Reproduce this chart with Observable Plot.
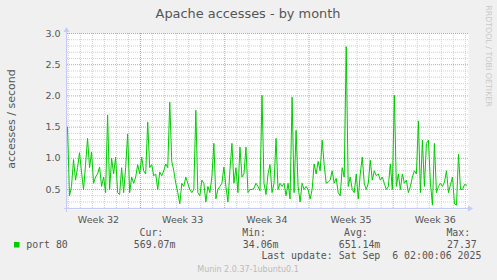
<!DOCTYPE html>
<html><head><meta charset="utf-8">
<script src="https://cdn.jsdelivr.net/npm/d3@7"></script>
<script src="https://cdn.jsdelivr.net/npm/@observablehq/plot@0.6"></script>
<style>
html,body{margin:0;padding:0;background:#f0f0f0;overflow:hidden;}
#chart{width:497px;height:280px;}
svg{display:block;}
</style></head><body><div id="chart"></div>
<script>
// ---- text ----
const title = "Apache accesses - by month";
const yLabel = "accesses / second";
const seriesName = "port 80";
const legendHeads = ["Cur:", "Min:", "Avg:", "Max:"];
const legendValues = ["569.07m", "34.06m", "651.14m", "27.37"];
const lastUpdate = "Last update: Sat Sep  6 02:00:06 2025";
const footer = "Munin 2.0.37-1ubuntu0.1";
const watermark = "RRDTOOL / TOBI OETIKER";

// ---- x axis (days since Mon 4 Aug 2025 00:00) ----
const weekLabels = ["Week 32", "Week 33", "Week 34", "Week 35", "Week 36"];
const weekMid = [3.5, 10.5, 17.5, 24.5, 31.5];
const weekBounds = [7, 14, 21, 28];
const dayLines = [1,2,3,4,5,6,8,9,10,11,12,13,15,16,17,18,19,20,22,23,24,25,26,27,29,30,31,32,33,34];
const xDomain = [0.93, 34.26];

// ---- y axis ----
const yMajor = [0.5, 1.0, 1.5, 2.0, 2.5, 3.0];
const yMinor = [0.2,0.3,0.4,0.6,0.7,0.8,0.9,1.1,1.2,1.3,1.4,1.6,1.7,1.8,1.9,2.1,2.2,2.3,2.4,2.6,2.7,2.8,2.9];
const yDomain = [0.18, 3.0];

// ---- series: port 80, one sample every 4 hours ----
const firstSampleDay = 0.93;
const sampleStepDays = 1 / 6;
const week32 = [1.5,0.4,0.55,0.98,0.65,0.85,1.09,0.78,0.5,0.9,1.32,0.85,1.1,0.6,0.7,0.75,0.86,0.55,0.7,0.45,1.69,0.5,1.0,0.75,1.02,0.45,0.42,0.85,0.45,0.85,1.39,0.45,0.7,0.6];
const week33 = [0.7,0.9,0.75,1.02,0.8,0.75,1.58,0.85,0.9,0.72,0.75,0.5,0.78,0.72,0.8,0.91,0.85,1.9,0.95,0.8,0.6,0.45,0.27,0.6,0.55,0.7,0.6,0.5,0.45,0.5,1.77,0.45,0.4,0.65];
const week34 = [0.6,0.3,0.55,0.45,0.7,1.24,0.35,0.5,0.55,0.6,0.86,0.55,0.3,0.8,1.24,0.6,0.85,0.45,1.18,0.7,0.75,1.18,0.45,0.5,0.5,0.52,0.6,0.55,0.48,2.01,0.6,0.42,0.75,0.9];
const week35a = [0.45,0.6,1.32,0.5,0.6,0.55,0.6,0.4,0.6,0.35,1.98,0.45,1.45,0.55,0.3,0.6,0.5,0.55,0.5,0.35,0.5,0.91,0.75,0.95,0.8,1.29,0.9,0.6,0.62,0.65,0.8,0.6,0.68,0.45];
const week35b = [0.4,0.85,0.7,2.79,0.55,0.7,0.5,0.45,0.75,0.35,0.75,1.02,0.6,0.5,0.6,0.97,0.65,0.8,0.72,0.75,0.65,0.7,0.6,0.5,0.55,0.91,0.5,2.01,0.55,0.75,0.5,0.75,0.6,0.65];
const week36 = [0.45,0.55,0.7,0.8,0.75,1.6,0.45,1.29,0.55,1.24,1.29,0.6,0.25,1.24,0.45,0.55,0.6,0.55,0.62,0.8,0.45,0.58,0.7,0.27,0.25,1.07,0.5,0.5,0.58,0.57];
const accesses = [...week32, ...week33, ...week34, ...week35a, ...week35b, ...week36];
const samples = accesses.map((v, i) => ({day: firstSampleDay + i * sampleStepDays, value: v}));

const lineColor = "#00cc00";
const axisColor = "#c4cbf4";

const plot = Plot.plot({
  width: 497, height: 280,
  marginLeft: 67, marginRight: 29, marginTop: 33, marginBottom: 71,
  style: {fontFamily: "DejaVu Sans", fontSize: "9.5px", color: "#555", background: "#f0f0f0", overflow: "visible"},
  x: {domain: xDomain, label: null},
  y: {domain: yDomain, label: null},
  marks: [
    Plot.frame({fill: "white", stroke: null}),
    Plot.ruleY(yMinor, {stroke: "#cfcfcf", strokeDasharray: "1,1"}),
    Plot.ruleX(dayLines, {stroke: "#cfcfcf", strokeDasharray: "1,1"}),
    Plot.ruleY(yMajor, {stroke: "#f09090", strokeDasharray: "1,1"}),
    Plot.ruleX(weekBounds, {stroke: "#f09090", strokeDasharray: "1,1"}),
    Plot.axisY({ticks: yMajor, tickSize: 0, tickPadding: 7, tickFormat: d3.format(".1f"), fill: "#555"}),
    Plot.axisX({ticks: weekMid, tickSize: 0, tickPadding: 6.5, tickFormat: d => weekLabels[weekMid.indexOf(d)], fill: "#555"}),
    Plot.line(samples, {x: "day", y: "value", stroke: lineColor, strokeWidth: 1, clip: true})
  ]
});
document.getElementById("chart").appendChild(plot);

const svg = d3.select(plot);
const x0 = 67, x1 = 468, y0 = 33, y1 = 209;
// axes with arrows
svg.append("line").attr("x1", x0 - 0.5).attr("x2", x0 - 0.5).attr("y1", y0 - 1).attr("y2", y1 + 3).attr("stroke", axisColor);
svg.append("line").attr("x1", x0 - 3).attr("x2", x1 + 1).attr("y1", y1 - 0.5).attr("y2", y1 - 0.5).attr("stroke", axisColor);
svg.append("path").attr("d", `M${x0 - 3.5},${y0 - 1}L${x0 - 0.5},${y0 - 6}L${x0 + 2.5},${y0 - 1}Z`).attr("fill", axisColor);
svg.append("path").attr("d", `M${x1},${y1 - 3.5}L${x1 + 5},${y1 - 0.5}L${x1},${y1 + 2.5}Z`).attr("fill", axisColor);

// title
svg.append("text").attr("x", 248).attr("y", 18).attr("text-anchor", "middle")
  .attr("font-family", "DejaVu Sans").attr("font-size", "12.9px").attr("fill", "#555").text(title);
// y label
svg.append("text").attr("transform", "translate(15,119) rotate(-90)").attr("text-anchor", "middle")
  .attr("font-family", "DejaVu Sans").attr("font-size", "11px").attr("fill", "#555").text(yLabel);
// watermark
svg.append("text").attr("transform", "translate(485.5,56) rotate(90)").attr("text-anchor", "middle")
  .attr("font-family", "DejaVu Sans").attr("font-size", "7.9px").attr("fill", "#c8c8c8").text(watermark);

// legend
const mono = "DejaVu Sans Mono";
const headX = [139.5, 242.2, 344, 446.4];
const valX = [133.8, 242.8, 338.7, 447];
const legendText = (x, y, t) => svg.append("text").attr("x", x).attr("y", y).attr("text-anchor", "start")
  .attr("font-family", mono).attr("font-size", "9.9px").attr("fill", "#555").style("white-space", "pre").text(t);
legendHeads.forEach((t, i) => {
  legendText(headX[i], 236, t);
  legendText(valX[i], 247.5, legendValues[i]);
});
svg.append("rect").attr("x", 14).attr("y", 242).attr("width", 5.5).attr("height", 5.5).attr("fill", lineColor);
legendText(26.2, 247.5, seriesName);
legendText(261.4, 259.3, lastUpdate);
svg.append("text").attr("x", 248).attr("y", 272).attr("text-anchor", "middle")
  .attr("font-family", "DejaVu Sans").attr("font-size", "8px").attr("fill", "#bbb").text(footer);
</script></body></html>
